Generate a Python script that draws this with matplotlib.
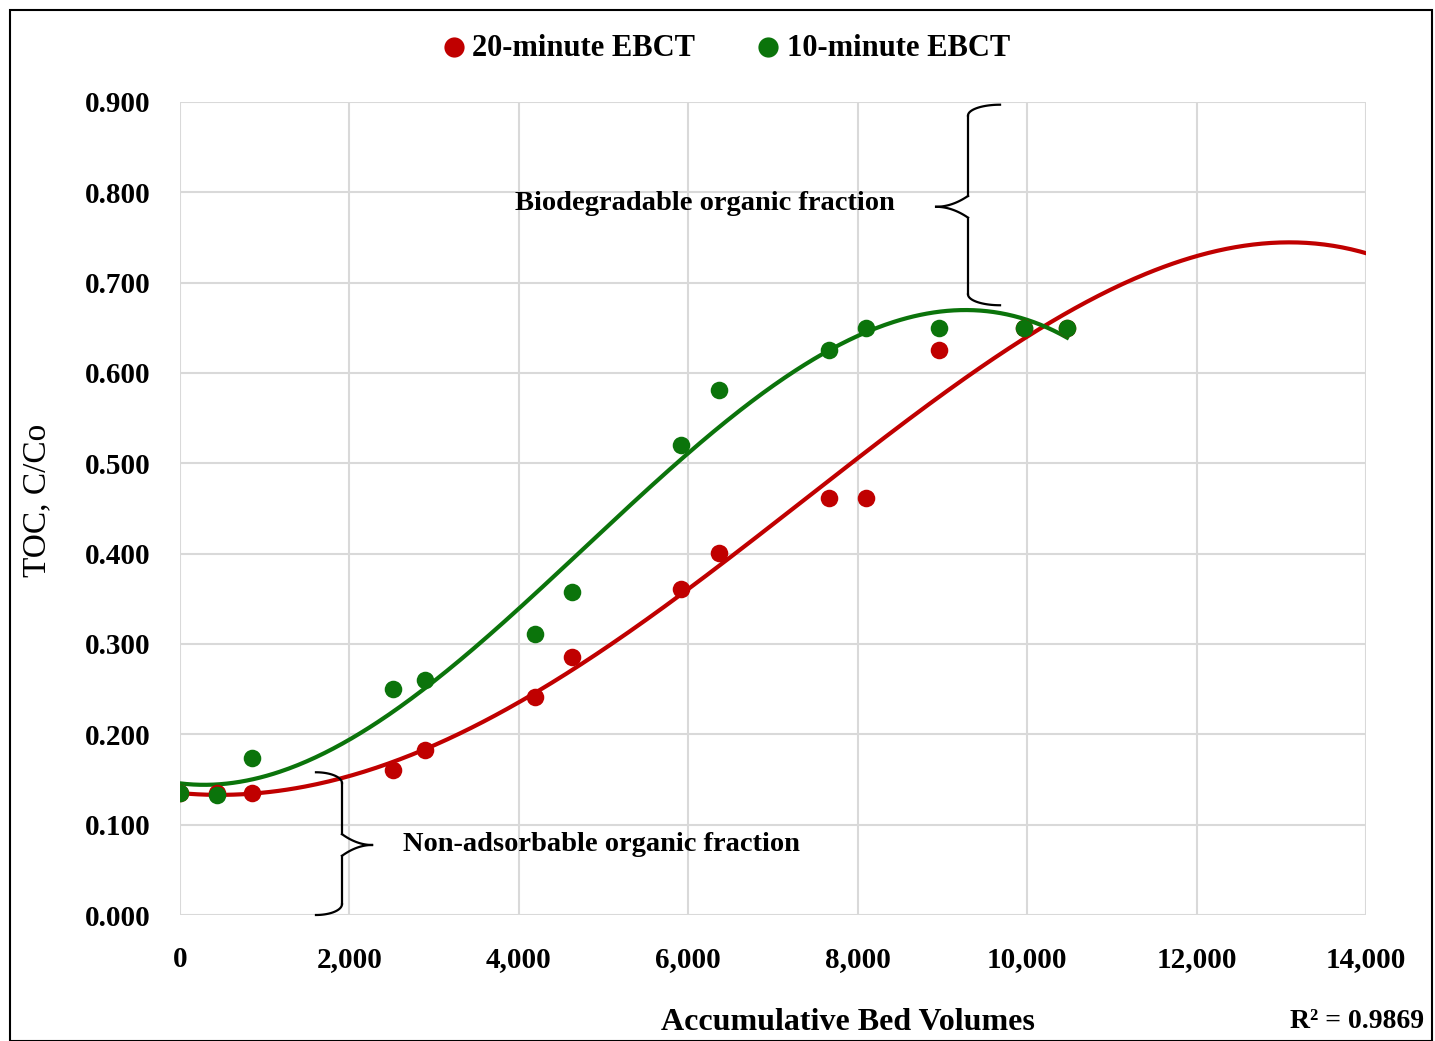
import numpy as np
import matplotlib
matplotlib.use("Agg")
import matplotlib.pyplot as plt
from matplotlib.patches import Rectangle

# ---- data ----
bed_volumes = [0, 437, 850, 2514, 2892, 4191, 4628, 5914, 6363, 7661, 8098, 8960, 9963, 10471]
toc_20min = [0.135, 0.135, 0.135, 0.160, 0.183, 0.241, 0.286, 0.361, 0.401, 0.462, 0.462, 0.625, 0.650, 0.650]
toc_10min = [0.135, 0.133, 0.174, 0.250, 0.260, 0.311, 0.358, 0.520, 0.581, 0.625, 0.650, 0.650, 0.650, 0.650]
x_ticks = [0, 2000, 4000, 6000, 8000, 10000, 12000, 14000]
y_ticks = [0.0, 0.1, 0.2, 0.3, 0.4, 0.5, 0.6, 0.7, 0.8, 0.9]
label_20 = "20-minute EBCT"
label_10 = "10-minute EBCT"
r2_text = "R² = 0.9869"

RED = "#C00000"
GREEN = "#0B740B"
FONT = "Liberation Serif"

fig = plt.figure(figsize=(14.35, 10.41), dpi=100)
ax = fig.add_axes([180/1435, 1 - 915/1041, (1366-180)/1435, (915-102)/1041])

x = np.array(bed_volumes, float)
# polynomial trendlines
p20 = np.polyfit(x, toc_20min, 4)
p10 = np.polyfit(x, toc_10min, 3)
xr = np.linspace(0, 14000, 400)
xg = np.linspace(0, max(bed_volumes), 400)
ax.plot(xr, np.polyval(p20, xr), color=RED, lw=3.0, zorder=3)
ax.plot(xg, np.polyval(p10, xg), color=GREEN, lw=3.0, zorder=3)

ax.scatter(bed_volumes, toc_20min, s=160, color=RED, zorder=4, label=label_20, linewidths=0)
ax.scatter(bed_volumes, toc_10min, s=160, color=GREEN, zorder=5, label=label_10, linewidths=0)

ax.set_xlim(0, 14000)
ax.set_ylim(0, 0.9)
ax.set_xticks(x_ticks)
ax.set_yticks(y_ticks)
ax.set_xticklabels([f"{v:,}" for v in x_ticks], fontfamily=FONT, fontweight="bold", fontsize=21)
ax.set_yticklabels([f"{v:.3f}" for v in y_ticks], fontfamily=FONT, fontweight="bold", fontsize=21)
ax.tick_params(axis="both", length=0)
ax.tick_params(axis="x", pad=22)
ax.tick_params(axis="y", pad=21)
ax.grid(True, color="#d9d9d9", lw=1.5)
ax.set_axisbelow(True)
for s in ax.spines.values():
    s.set_visible(False)

# axis labels
fig.text(848/1435, 1 - 1022/1041, "Accumulative Bed Volumes", ha="center", va="center",
         fontfamily=FONT, fontweight="bold", fontsize=23)
fig.text(37/1435, 1 - 500/1041, "TOC, C/Co", ha="center", va="center", rotation=90,
         fontfamily=FONT, fontsize=24)
fig.text(1424/1435, 1 - 1022/1041, r2_text, ha="right", va="center",
         fontfamily=FONT, fontweight="bold", fontsize=20)

# legend
leg = fig.legend(loc="center", bbox_to_anchor=(724/1435, 1 - 48/1041), ncol=2, frameon=False,
                 prop={"family": FONT, "weight": "bold", "size": 22}, handletextpad=0.1,
                 columnspacing=1.9, markerscale=1.15, handlelength=1.0)

# braces (annotations)
def brace(ax, xe, xv, xt, y0, ym, y1):
    c = dict(color="black", lw=1.6, clip_on=False, zorder=6)
    dx = xv - xe
    t = np.linspace(0, 1, 30)
    ax.plot(xe + dx * np.sin(t * np.pi / 2), y1 - (1 - np.cos(t * np.pi / 2)) * 0.012, **c)
    ax.plot([xv, xv], [y1 - 0.012, ym + 0.012], **c)
    ax.plot(xv + (xt - xv) * t, ym + 0.012 * (1 - t) ** 2, **c)
    ax.plot(xv + (xt - xv) * t, ym - 0.012 * (1 - t) ** 2, **c)
    ax.plot([xv, xv], [ym - 0.012, y0 + 0.012], **c)
    ax.plot(xe + dx * np.sin(t * np.pi / 2), y0 + (1 - np.cos(t * np.pi / 2)) * 0.012, **c)

brace(ax, 1605, 1912, 2267, 0.0, 0.0775, 0.158)
brace(ax, 9680, 9302, 8925, 0.675, 0.784, 0.897)

ax.text(2633, 0.0775, "Non-adsorbable organic fraction", ha="left", va="center",
        fontfamily=FONT, fontweight="bold", fontsize=20.5)
ax.text(3955, 0.788, "Biodegradable organic fraction", ha="left", va="center",
        fontfamily=FONT, fontweight="bold", fontsize=20.5)

# outer frame
fig.patches.append(Rectangle((10/1435, 0), 1422/1435, 1 - 10/1041, transform=fig.transFigure,
                             fill=False, edgecolor="black", lw=1.5))

fig.savefig("out.png", dpi=100)
